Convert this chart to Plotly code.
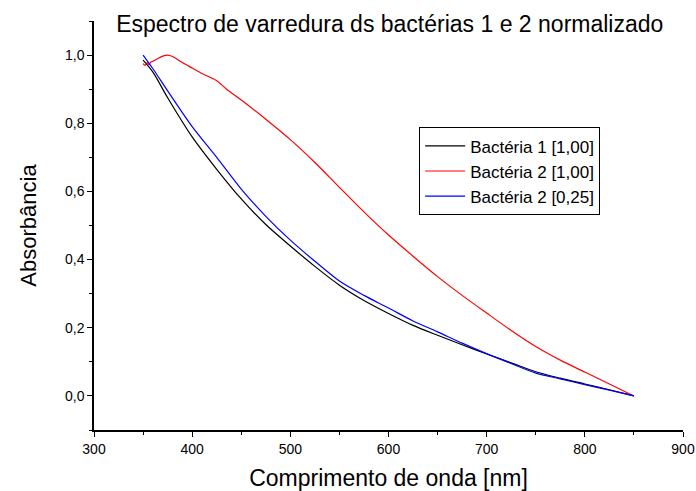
import plotly.graph_objects as go

# Bactéria 1 [1,00]
x_b1 = [350, 360, 375, 400, 425, 450, 475, 500, 525, 550, 575, 600, 625, 650, 675, 700, 725, 750, 775, 800, 825, 850]
y_b1 = [0.985, 0.95, 0.875, 0.76, 0.665, 0.578, 0.503, 0.44, 0.38, 0.325, 0.28, 0.242, 0.207, 0.178, 0.15, 0.123, 0.097, 0.071, 0.052, 0.035, 0.018, 0.0]

# Bactéria 2 [1,00]
x_b2 = [350, 352, 354, 356, 358, 360, 365, 370, 375, 380, 390, 400, 410, 425, 435, 450, 475, 500, 525, 550, 575, 600, 625, 650, 675, 700, 725, 750, 775, 800, 825, 850]
y_b2 = [0.975, 0.97, 0.978, 0.972, 0.98, 0.982, 0.99, 0.997, 1.0, 0.996, 0.978, 0.962, 0.946, 0.925, 0.9, 0.868, 0.812, 0.752, 0.685, 0.612, 0.54, 0.472, 0.41, 0.35, 0.295, 0.243, 0.192, 0.145, 0.105, 0.07, 0.035, 0.0]

# Bactéria 2 [0,25]
x_b3 = [350, 360, 375, 400, 425, 450, 475, 500, 525, 550, 575, 600, 625, 650, 675, 700, 725, 750, 775, 800, 825, 850]
y_b3 = [1.0, 0.96, 0.895, 0.79, 0.70, 0.607, 0.527, 0.457, 0.395, 0.337, 0.295, 0.258, 0.22, 0.188, 0.155, 0.124, 0.095, 0.067, 0.05, 0.033, 0.017, 0.0]

names = ["Bactéria 1 [1,00]", "Bactéria 2 [1,00]", "Bactéria 2 [0,25]"]
colors = ["#000000", "#ff0000", "#0000ff"]

fig = go.Figure()
for xs, ys, nm, c in zip([x_b1, x_b2, x_b3], [y_b1, y_b2, y_b3], names, colors):
    fig.add_trace(go.Scatter(x=xs, y=ys, mode="lines", name=nm,
                             line=dict(color=c, width=1.2, shape="spline", smoothing=0.8)))

font_family = "Liberation Sans, Arial, sans-serif"
axis_common = dict(
    showline=True, linecolor="black", linewidth=1.5,
    ticks="outside", ticklen=5, tickwidth=1.3, tickcolor="black",
    showgrid=False, zeroline=False, mirror=False, automargin=False,
    tickfont=dict(family=font_family, size=14, color="black"),
)

fig.update_layout(
    width=696, height=491,
    margin=dict(l=94, r=13, t=21, b=61),
    paper_bgcolor="white", plot_bgcolor="white",
    separators=", ",
    font=dict(family=font_family, color="black"),
    title=dict(text="Espectro de varredura ds bactérias 1 e 2 normalizado",
               x=0.56, xref="container", xanchor="center",
               y=0.951, yref="container", yanchor="middle",
               font=dict(size=23, family=font_family, color="black")),
    xaxis=dict(range=[300, 900], dtick=100, tick0=300,
               title=dict(text="Comprimento de onda [nm]", font=dict(size=23), standoff=14),
               minor=dict(dtick=50, ticks="outside", ticklen=3, tickcolor="black", showgrid=False),
               **axis_common),
    yaxis=dict(range=[-0.1, 1.1], dtick=0.2, tick0=0, tickformat=".1f",
               title=dict(text="Absorbância", font=dict(size=22), standoff=22),
               minor=dict(dtick=0.1, tick0=0, ticks="outside", ticklen=3, tickcolor="black", showgrid=False),
               **axis_common),
    legend=dict(x=0.552, y=0.74, xanchor="left", yanchor="top",
                bordercolor="black", borderwidth=1, bgcolor="white",
                font=dict(size=17, family=font_family, color="black"),
                tracegroupgap=0, itemwidth=40),
    showlegend=True,
)

fig.write_html("out.html")
